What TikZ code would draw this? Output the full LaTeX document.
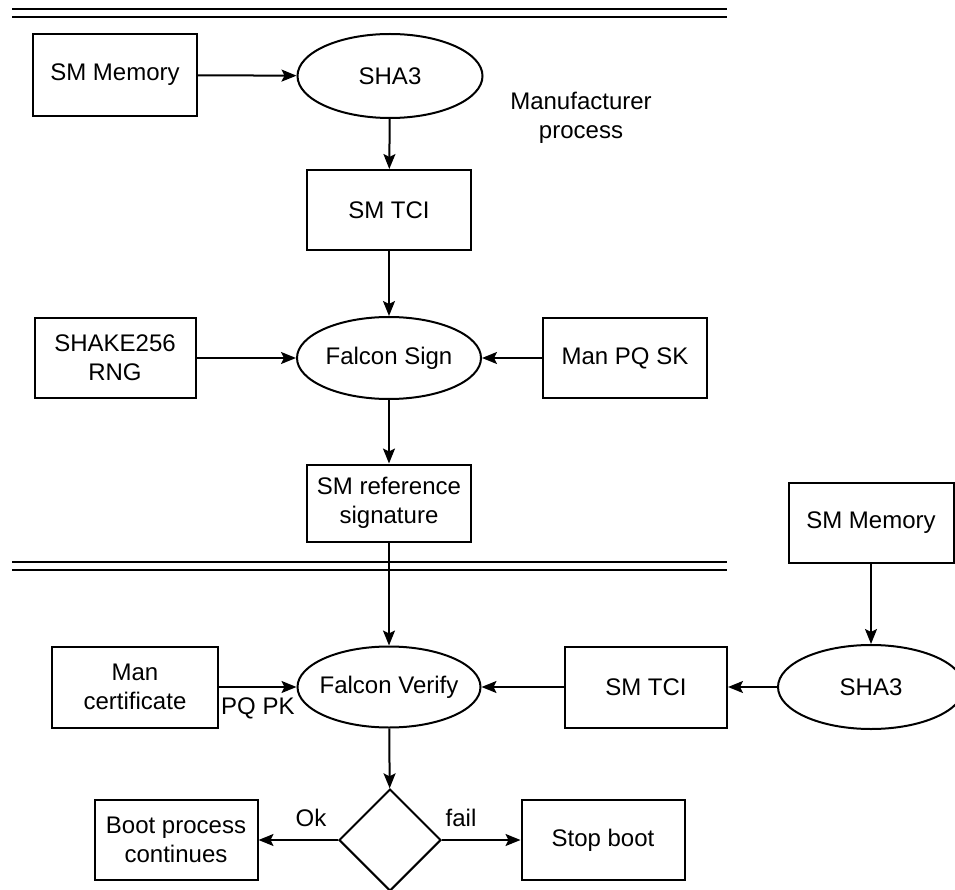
\documentclass[tikz,border=0pt]{standalone}
\usepackage{fontspec}
\setmainfont{Liberation Sans}
\usetikzlibrary{shapes.geometric,arrows.meta}
\begin{document}
\begin{tikzpicture}[x=1pt,y=-1pt,
  font=\fontsize{24}{29}\selectfont,
  box/.style={draw,line width=2pt,rectangle,inner sep=0pt,align=center},
  oval/.style={draw,line width=2pt,ellipse,inner xsep=-12pt,inner ysep=0pt,align=center},
  link/.style={line width=2pt,-{Stealth[length=15pt,width=12pt,inset=3pt]}},
  sep/.style={line width=2.6pt}]
\useasboundingbox (0,0) rectangle (955,890);
\clip (0,0) rectangle (955,890);

% separators between the two phases
\draw[sep] (12,9) -- (727,9);
\draw[sep] (12,17) -- (727,17);
\draw[sep] (12,562) -- (727,562);
\draw[sep] (12,570) -- (727,570);

% manufacturer process
\node[box,minimum width=164pt,minimum height=82pt] (mem1) at (115,75) {SM Memory};
\node[oval,minimum width=185pt,minimum height=84pt] (sha1) at (390,76) {SHA3};
\node[align=center] (manu) at (581,118) {Manufacturer\\process};
\node[box,minimum width=164pt,minimum height=80pt] (tci1) at (389,210) {SM TCI};
\node[box,minimum width=161pt,minimum height=80pt] (rng) at (115,358) {SHAKE256\\RNG};
\node[oval,minimum width=184pt,minimum height=82pt] (sign) at (389,358) {Falcon Sign};
\node[box,minimum width=164pt,minimum height=80pt] (sk) at (625,358) {Man PQ SK};
\node[box,minimum width=164pt,minimum height=77pt] (ref) at (389,503) {SM reference\\signature};

% boot-time verification
\node[box,minimum width=165pt,minimum height=80pt] (mem2) at (871,523) {SM Memory};
\node[oval,minimum width=186pt,minimum height=84pt] (sha2) at (871,687) {SHA3};
\node[box,minimum width=162pt,minimum height=81pt] (tci2) at (646,687) {SM TCI};
\node[oval,minimum width=183pt,minimum height=81pt] (ver) at (389,687) {Falcon Verify};
\node[box,minimum width=166pt,minimum height=81pt] (cert) at (135,687) {Man\\certificate};
\node[anchor=north west,inner sep=0pt] (pqpk) at (221,698) {PQ PK};
\node[draw,line width=2pt,diamond,aspect=1,inner sep=0pt,minimum width=102pt,minimum height=102pt] (dec) at (390,840) {};
\node[box,minimum width=163pt,minimum height=80pt] (cont) at (176,840) {Boot process\\continues};
\node[box,minimum width=163pt,minimum height=80pt] (stop) at (603,840) {Stop boot};
\node (ok) at (311,818) {Ok};
\node (fail) at (461,818) {fail};

% connectors
\draw[link] (mem1) -- (sha1);
\draw[link] (sha1) -- (tci1);
\draw[link] (tci1) -- (sign);
\draw[link] (rng) -- (sign);
\draw[link] (sk) -- (sign);
\draw[link] (sign) -- (ref);
\draw[link] (ref) -- (ver);
\draw[link] (mem2) -- (sha2);
\draw[link] (sha2) -- (tci2);
\draw[link] (tci2) -- (ver);
\draw[link] (cert) -- (ver);
\draw[link] (ver) -- (dec);
\draw[link] (dec) -- (cont);
\draw[link] (dec) -- (stop);
\end{tikzpicture}
\end{document}
